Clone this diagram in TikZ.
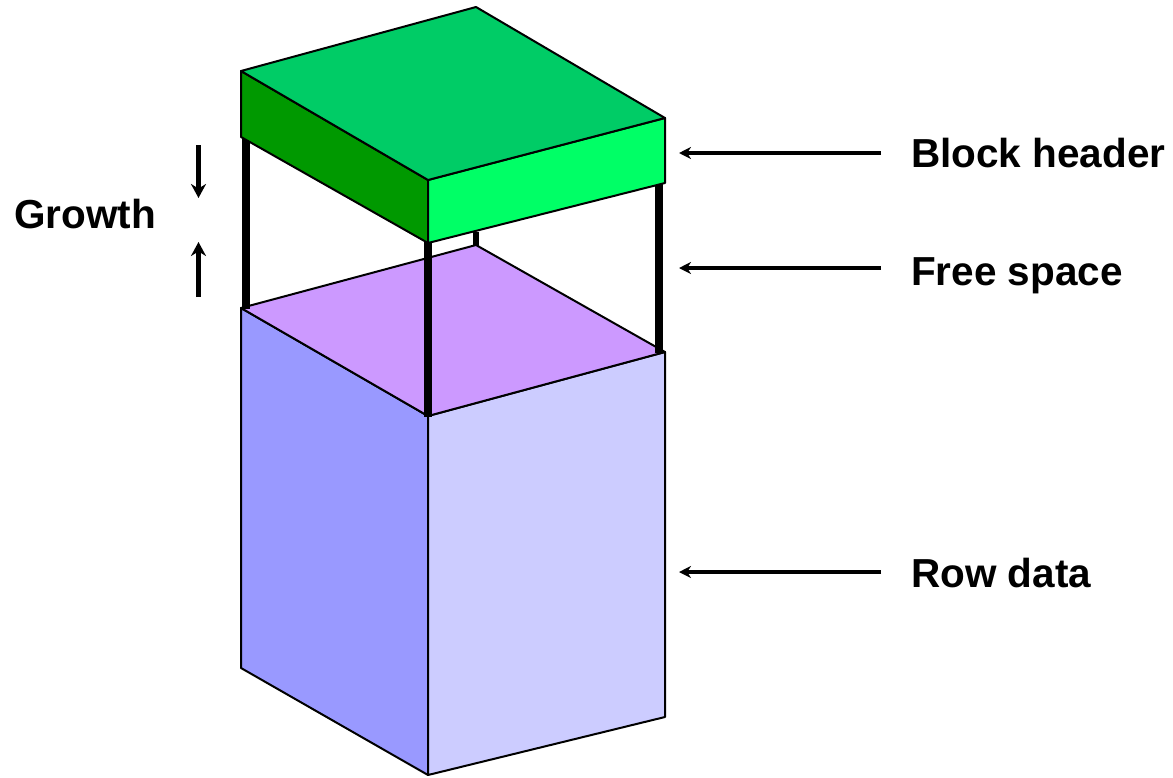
\documentclass[tikz,border=0pt]{standalone}
\usepackage{fontspec}
\setmainfont{Liberation Sans}
\usepackage{xcolor}
\usepackage{tikz}
\usetikzlibrary{calc, positioning, arrows.meta}

\definecolor{HeadTop}{RGB}{0,204,102}
\definecolor{HeadLeft}{RGB}{0,153,0}
\definecolor{HeadRight}{RGB}{0,255,102}
\definecolor{FreeTop}{RGB}{204,153,255}
\definecolor{RowLeft}{RGB}{153,153,255}
\definecolor{RowRight}{RGB}{204,204,255}

\tikzset{
    face/.style={draw=black, line width=2pt, line join=round},
    pillar/.style={line width=8pt},
    pointer/.style={line width=4pt, -{Stealth[length=12pt, width=12pt]}},
    label/.style={anchor=base west, inner sep=0pt, font=\fontsize{40.5}{48}\selectfont\bfseries}
}

\begin{document}
\begin{tikzpicture}[x=1pt, y=-1pt]
            \useasboundingbox (0,0) rectangle (1173,777);

            % row data box
            \filldraw[face, fill=RowLeft] (241,308) -- (428,416) -- (428,775) -- (241,668) -- cycle;
            \filldraw[face, fill=RowRight] (428,416) -- (665,352) -- (665,717) -- (428,775) -- cycle;
            \filldraw[face, fill=FreeTop] (241,308) -- (476,245) -- (665,352) -- (428,416) -- cycle;

            % pillars of the free space
            \draw[pillar, line width=6pt] (476,232) -- (476,246);
            \draw[pillar] (245.5,136) -- (245.5,309);
            \draw[pillar] (428,242) -- (428,417);
            \draw[pillar] (659,182) -- (659,353);

            % block header box
            \filldraw[face, fill=HeadLeft] (241,71) -- (428,180) -- (428,243) -- (241,137) -- cycle;
            \filldraw[face, fill=HeadRight] (428,180) -- (665,118) -- (665,183) -- (428,243) -- cycle;
            \filldraw[face, fill=HeadTop] (241,71) -- (476,7) -- (665,118) -- (428,180) -- cycle;

            % labels
            \node[label] (header) at (911,167) {Block header};
            \node[label] (free) at (911,285) {Free space};
            \node[label] (row) at (911,587) {Row data};
            \node[label] (growth) at (14,228) {Growth};

            \coordinate (headerEnd) at (679,153);
            \coordinate (freeEnd) at (679,268);
            \coordinate (rowEnd) at (679,572);

            \draw[pointer] (header.west |- headerEnd) ++(-30,0) -- (headerEnd);
            \draw[pointer] (free.west |- freeEnd) ++(-30,0) -- (freeEnd);
            \draw[pointer] (row.west |- rowEnd) ++(-30,0) -- (rowEnd);

            % growth arrows
            \coordinate (downTop) at (198.5,145);
            \coordinate (downEnd) at (198.5,198);
            \coordinate (upBottom) at (198.5,297);
            \coordinate (upEnd) at (198.5,242);
            \draw[pointer, line width=5pt, -{Stealth[length=14pt, width=15pt]}] (downTop) -- (downEnd);
            \draw[pointer, line width=5pt, -{Stealth[length=14pt, width=15pt]}] (upBottom) -- (upEnd);
        \end{tikzpicture}
\end{document}
